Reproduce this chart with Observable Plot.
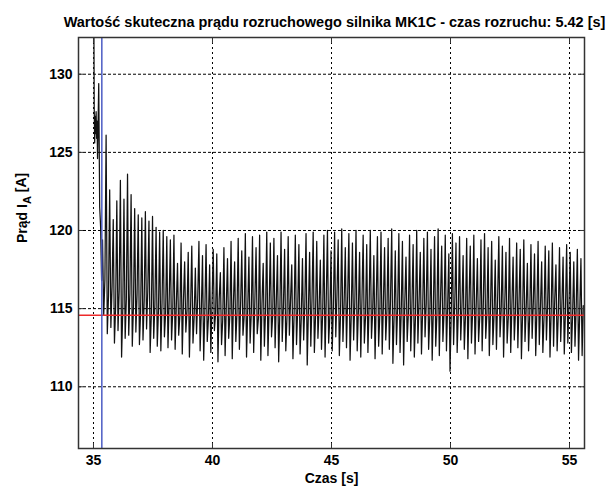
<!DOCTYPE html>
<html><head><meta charset="utf-8">
<script src="https://cdn.jsdelivr.net/npm/d3@7"></script>
<script src="https://cdn.jsdelivr.net/npm/@observablehq/plot@0.6"></script>
<style>body{margin:0;background:#fff} svg{display:block}</style>
</head><body><div id="chart"></div>
<script>
const title = "Wartość skuteczna prądu rozruchowego silnika MK1C - czas rozruchu: 5.42 [s]";
const xLabel = "Czas [s]";
const yLabel = "Prąd I_A [A]";
const xTicks = [35, 40, 45, 50, 55];
const yTicks = [110, 115, 120, 125, 130];
const xDomain = [34.37, 55.63];
const yDomain = [106.05, 132.35];

// start transient (explicit times)
const startTime    = [35.00, 35.03, 35.05, 35.07, 35.09, 35.11, 35.13, 35.15, 35.17, 35.22, 35.26, 35.30, 35.34];
const startCurrent = [140.0, 127.9, 125.6, 127.3, 126.2, 127.6, 125.9, 127.0, 124.6, 129.4, 121.5, 120.2, 116.8];

// sampled RMS current after start (peak, trough, middle per cycle)
const sampleStart = 35.38, sampleStep = 0.05;
const current = [
119.4,114.6,116.9, 126.1,113.4,115.8, 122.6,113.8,116.4, 120.7,112.8,115.1, 121.9,113.6,116.2,
123.2,111.9,114.9, 122.0,113.1,115.6, 123.6,113.3,116.0, 122.3,112.6,115.2, 121.4,113.5,115.9,
121.0,112.7,114.8, 120.8,113.0,115.5, 121.2,113.7,116.1, 120.6,112.2,114.6, 120.9,113.1,115.3,
120.2,112.6,114.9, 119.9,112.3,115.4, 120.0,113.2,114.7, 119.6,112.5,115.6, 119.4,113.0,114.8,
119.7,112.4,115.2, 117.9,113.3,114.6, 119.2,112.1,115.5, 118.0,113.5,114.9, 118.6,111.9,115.1,
119.0,112.8,114.5, 117.6,113.4,115.7, 119.3,112.3,114.8, 118.4,111.7,115.0, 119.1,112.9,114.4,
117.8,112.2,115.3, 118.8,113.6,114.7, 118.5,111.6,115.6, 117.3,112.7,114.3, 118.9,112.0,115.1,
118.2,113.1,114.6, 119.3,111.8,115.4, 118.0,112.9,114.8, 119.5,112.4,115.2, 118.7,113.3,114.5,
119.8,111.9,115.0, 118.3,112.8,114.7, 119.6,112.2,115.5, 118.9,113.4,114.4, 119.7,111.7,115.3,
117.9,112.6,114.9, 119.9,112.0,115.1, 119.2,113.2,114.6, 119.5,112.5,115.4, 118.4,111.6,114.8,
119.9,112.9,115.2, 118.8,112.3,114.5, 119.6,113.3,115.6, 117.8,111.8,114.7, 119.7,112.7,115.0,
119.1,112.1,114.4, 118.2,113.0,115.3, 119.8,111.4,114.9, 118.6,112.6,115.5, 119.9,112.2,114.6,
119.3,113.1,115.1, 118.1,112.4,114.8, 119.7,111.9,115.6, 120.0,112.8,114.5, 118.7,112.3,115.2,
119.9,113.2,115.9, 119.4,112.0,114.7, 120.1,112.9,115.3, 118.9,112.5,115.8, 119.8,111.7,114.6,
119.2,113.0,115.4, 120.0,112.3,114.9, 118.6,111.9,115.6, 119.7,112.8,114.5, 119.1,112.2,115.2,
120.0,113.1,114.8, 118.4,111.8,115.5, 119.6,112.6,114.6, 119.9,112.1,115.3, 118.9,113.0,114.9,
119.5,112.4,115.7, 120.1,111.5,114.5, 118.7,112.7,115.1, 119.8,112.2,114.8, 119.3,111.4,115.4,
118.3,112.9,114.7, 119.7,112.3,115.2, 119.1,111.9,114.6, 120.0,112.8,115.5, 118.6,112.1,114.9,
119.5,113.2,115.3, 119.9,112.4,114.5, 118.8,111.7,115.0, 119.6,112.6,114.7, 120.1,112.0,115.6,
119.0,112.9,114.8, 119.7,112.3,115.2, 118.5,111.0,114.6, 119.8,112.7,115.4, 119.2,112.2,114.9,
119.6,113.0,115.1, 118.4,112.4,114.6, 119.5,111.8,115.5, 119.0,112.8,114.8, 119.7,112.1,115.2,
118.2,112.9,114.5, 119.4,112.3,115.4, 119.8,113.1,114.7, 118.9,112.0,115.0, 119.3,112.7,114.6,
118.1,112.4,115.6, 119.6,113.2,114.9, 119.0,111.9,115.3, 118.6,112.8,114.5, 119.5,112.2,115.2,
118.3,113.0,114.8, 119.2,112.5,115.5, 118.8,111.8,114.7, 119.4,112.9,115.0, 117.9,112.3,114.6,
119.1,113.1,115.4, 118.5,112.0,114.9, 119.3,112.7,115.1, 118.0,112.2,114.5, 119.0,113.0,115.3,
118.7,111.9,114.8, 119.2,112.6,115.6, 117.8,112.3,114.7, 118.9,112.9,115.2, 118.3,112.1,114.9,
119.1,112.8,115.4, 118.6,112.2,114.6, 118.0,112.6,115.0, 118.8,111.7,114.8, 118.2,112.0,115.2
];
const steadyCurrent = 114.57;   // red line
const startEnd = 35.35;         // blue line

const series = startTime.map((t, i) => ({t, i: startCurrent[i]}))
  .concat(current.map((v, k) => ({t: sampleStart + k * sampleStep, i: v})));

const font = "'Liberation Sans', Arial, sans-serif";

const plot = Plot.plot({
  width: 614, height: 488,
  marginLeft: 78, marginRight: 30, marginTop: 37, marginBottom: 40,
  style: {fontFamily: font, fontSize: "14px", fontWeight: "bold", color: "#000", background: "#fff"},
  x: {domain: xDomain},
  y: {domain: yDomain},
  marks: [
    Plot.gridX(xTicks, {stroke: "#000", strokeOpacity: 1, strokeDasharray: "2,3"}),
    Plot.gridY(yTicks, {stroke: "#000", strokeOpacity: 1, strokeDasharray: "3,2"}),
    Plot.line(series, {x: "t", y: "i", stroke: "#111", strokeWidth: 1.25, clip: true}),
    Plot.ruleY([steadyCurrent], {stroke: "#ee2a2a", strokeWidth: 1.5}),
    Plot.ruleX([startEnd], {stroke: "#4b5cc4", strokeWidth: 1.5}),
    Plot.frame({stroke: "#333", strokeWidth: 1.5}),
    Plot.axisX(xTicks, {anchor: "bottom", tickSize: -5, tickPadding: 12, label: null, stroke: "#333"}),
    Plot.axisX(xTicks, {anchor: "top", tickSize: -5, tickFormat: () => "", label: null, stroke: "#333"}),
    Plot.axisY(yTicks, {anchor: "left", tickSize: -5, tickPadding: 11, label: null, stroke: "#333"}),
    Plot.axisY(yTicks, {anchor: "right", tickSize: -5, tickFormat: () => "", label: null, stroke: "#333"}),
    Plot.text([title], {frameAnchor: "top", dy: -21, dx: 3, fontSize: 14.5, fontWeight: "bold", fill: "#000"}),
    Plot.text([xLabel], {frameAnchor: "bottom", dy: 34, fontSize: 14, fontWeight: "bold", fill: "#000"}),
    Plot.text([yLabel], {frameAnchor: "left", dx: -56, rotate: -90, fontSize: 14, fontWeight: "bold", fill: "#000"})
  ]
});
document.getElementById("chart").append(plot);

d3.select(plot).selectAll("text").each(function() {
  const s = this.textContent;
  if (s === yLabel) {
    const t = d3.select(this);
    t.text(null);
    t.append("tspan").text("Prąd I");
    t.append("tspan").attr("dy", "0.35em").attr("font-size", "11px").text("A");
    t.append("tspan").attr("dy", "-0.35em").text(" [A]");
  }
});
</script>
</body></html>
